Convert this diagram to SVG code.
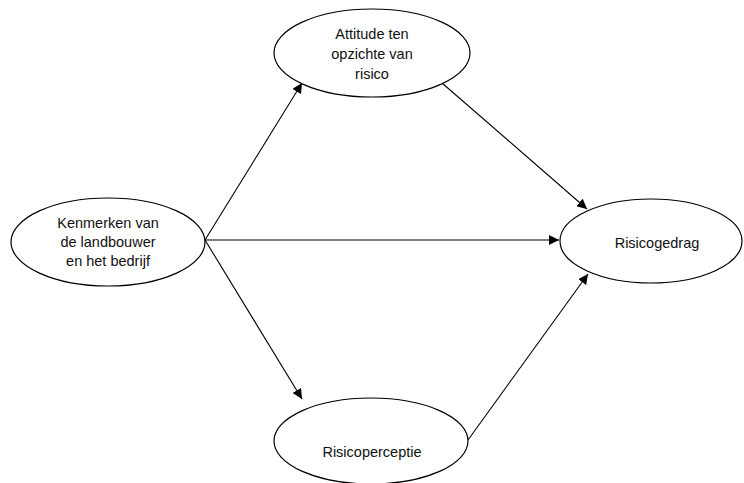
<svg xmlns="http://www.w3.org/2000/svg" width="744" height="483" viewBox="0 0 744 483">
<style>
.n{fill:#fff;stroke:#000;stroke-width:1.2}
.t{font-family:"Liberation Sans",Arial,sans-serif;font-size:14.5px;fill:#111;text-anchor:middle}
.c{stroke:#000;stroke-width:1.1;fill:none;marker-end:url(#ah)}
</style>
<defs>
<marker id="ah" viewBox="0 0 10 10" refX="10" refY="5" markerWidth="10" markerHeight="10" markerUnits="userSpaceOnUse" orient="auto">
<path d="M0,0 L10,5 L0,10 z" fill="#000"/>
</marker>
</defs>
<rect width="744" height="483" fill="#fff"/>
<g id="connectors">
<line class="c" x1="205" y1="240" x2="302" y2="83"/>
<line class="c" x1="205" y1="240" x2="559" y2="240"/>
<line class="c" x1="205" y1="240" x2="302" y2="399"/>
<line class="c" x1="442" y1="83" x2="587" y2="209"/>
<line class="c" x1="468" y1="440" x2="588" y2="274"/>
</g>
<g id="attitude">
<ellipse class="n" cx="372" cy="53" rx="98" ry="44"/>
<text class="t" x="372" y="39">Attitude ten</text>
<text class="t" x="372" y="59">opzichte van</text>
<text class="t" x="372" y="79">risico</text>
</g>
<g id="kenmerken">
<ellipse class="n" cx="108" cy="242" rx="97" ry="44"/>
<text class="t" x="108" y="228">Kenmerken van</text>
<text class="t" x="108" y="247">de landbouwer</text>
<text class="t" x="108" y="266">en het bedrijf</text>
</g>
<g id="risicogedrag">
<ellipse class="n" cx="651" cy="241" rx="91" ry="42"/>
<text class="t" x="657" y="248">Risicogedrag</text>
</g>
<g id="risicoperceptie">
<ellipse class="n" cx="371" cy="441" rx="97" ry="43"/>
<text class="t" x="372" y="457">Risicoperceptie</text>
</g>
</svg>
